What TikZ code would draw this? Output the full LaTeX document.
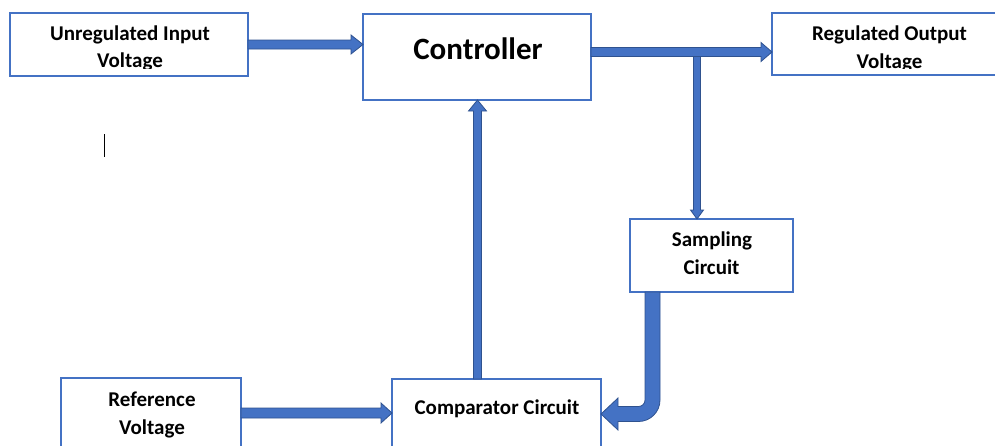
\documentclass[tikz,border=0pt]{standalone}
\usepackage{fontspec}
\setmainfont{Carlito}
\usetikzlibrary{calc}
\definecolor{boxblue}{HTML}{4472C4}
\definecolor{arrfill}{HTML}{4472C4}
\definecolor{arrdark}{HTML}{2F528F}
\newcommand\harr[5]{%
  \draw[arrsty] ($(#1)+(0,-#3)$) -- ($(#2)+(-#5,-#3)$) -- ($(#2)+(-#5,-#4)$) -- (#2)
    -- ($(#2)+(-#5,#4)$) -- ($(#2)+(-#5,#3)$) -- ($(#1)+(0,#3)$) -- cycle;}
\newcommand\varr[5]{%
  \draw[arrsty] ($(#1)+(-#3,0)$) -- ($(#2)+(-#3,#5)$) -- ($(#2)+(-#4,#5)$) -- (#2)
    -- ($(#2)+(#4,#5)$) -- ($(#2)+(#3,#5)$) -- ($(#1)+(#3,0)$) -- cycle;}
\begin{document}
\begin{tikzpicture}[x=1pt,y=-1pt,
  box/.style={draw=boxblue, line width=1.4pt, fill=white, inner sep=0, outer sep=0},
  lbl/.style={font=\bfseries\fontsize{21}{29}\selectfont, inner sep=0, anchor=base},
  big/.style={font=\bfseries\fontsize{31}{36}\selectfont, inner sep=0, anchor=base},
  arrsty/.style={fill=arrfill, draw=arrdark, line width=0.8pt, line join=miter}]
\useasboundingbox (0,0) rectangle (995,445);
% boxes
\node[box, minimum width=238, minimum height=63] (in) at (129,44.5) {};
\node[box, minimum width=228, minimum height=86] (ctrl) at (477,57) {};
\node[box, minimum width=240, minimum height=62] (out) at (892,44) {};
\node[box, minimum width=163, minimum height=73] (samp) at (711.5,255.5) {};
\node[box, minimum width=180, minimum height=80] (ref) at (151,418) {};
\node[box, minimum width=209, minimum height=80] (comp) at (496.5,419) {};
% labels
\begin{scope}
  \clip (10,13) rectangle (248,68);
  \node[lbl] (inT1) at (130,40) {Unregulated Input};
  \node[lbl] (inT2) at (130,67.5) {Voltage};
\end{scope}
\begin{scope}
  \clip (772,13) rectangle (995,68);
  \node[lbl] (outT1) at (889.5,40.5) {Regulated Output};
  \node[lbl] (outT2) at (889.5,68) {Voltage};
\end{scope}
\node[big] (ctrlT) at (478,59) {Controller};
\node[lbl] (sampT1) at (712,246) {Sampling};
\node[lbl] (sampT2) at (711.5,274) {Circuit};
\node[lbl] (refT1) at (152,406) {Reference};
\node[lbl] (refT2) at (152,434) {Voltage};
\node[lbl] (compT) at (497,414) {Comparator Circuit};
% cursor mark
\coordinate (cur1) at (104,134);
\coordinate (cur2) at (104,157);
\draw[black, line width=0.9pt] (cur1) -- (cur2);
% connector coordinates
\coordinate (a1s) at (in.east);
\coordinate (a1t) at (ctrl.west |- a1s);
\coordinate (a2s) at ($(ctrl.east)+(0,-5)$);
\coordinate (a2t) at (out.west |- a2s);
\coordinate (a3t) at ($(samp.north)+(-14.5,0)$);
\coordinate (a3s) at (a3t |- a2s);
\coordinate (a4s) at ($(comp.north)+(-19,0)$);
\coordinate (a4t) at (a4s |- ctrl.south);
\coordinate (a5s) at ($(ref.east)+(0,-5)$);
\coordinate (a5t) at (comp.west |- a5s);
\coordinate (cs) at ($(samp.south west)+(22.5,0)$);
\coordinate (ct) at ($(comp.east)+(0,-5)$);
\coordinate (K) at (cs |- ct);
% arrows
\harr{a1s}{a1t}{4.5}{9.5}{12}
\varr{a3s}{a3t}{3.5}{6.5}{-9}
\harr{a2s}{a2t}{4.5}{9.5}{11}
\varr{a4s}{a4t}{4}{9}{11}
\harr{a5s}{a5t}{5}{10}{11}
\draw[arrsty] ($(cs)+(-7.5,0)$) -- ($(K)+(-7.5,-14)$)
   arc[start angle=0, end angle=90, radius=6.5]
   -- ($(ct)+(17,-7.5)$) -- ($(ct)+(17,-16)$) -- (ct) -- ($(ct)+(17,16)$)
   -- ($(ct)+(17,7.5)$) -- ($(K)+(-14,7.5)$)
   arc[start angle=90, end angle=0, radius=21.5]
   -- ($(cs)+(7.5,0)$) -- cycle;
\end{tikzpicture}
\end{document}
